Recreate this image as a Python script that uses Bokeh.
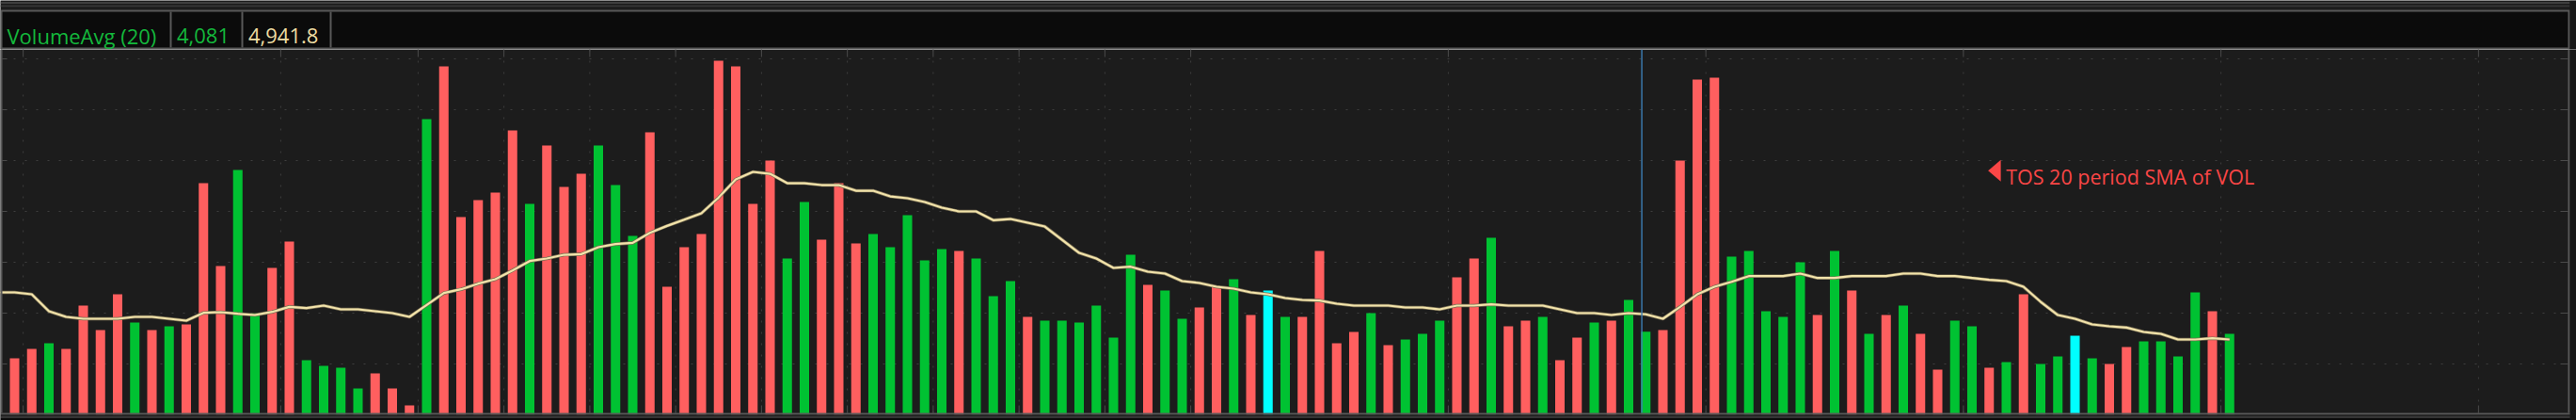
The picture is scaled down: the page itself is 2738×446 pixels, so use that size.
from bokeh.plotting import figure
from bokeh.layouts import column
from bokeh.models import Range1d, ColumnDataSource
from bokeh.core.properties import value
from bokeh.embed import file_html
from bokeh.resources import INLINE

# ---------------- data ----------------
study_name = "VolumeAvg (20)"
cursor_volume = "4,081"
cursor_avg = "4,941.8"
note_text = "TOS 20 period SMA of VOL"

bar_index = list(range(1, 131))
volume = [
    2777, 3240, 3518, 3240, 5370, 4166, 5925, 4536, 4166, 4351,
    4444, 11387, 7314, 12035, 4984, 7221, 8517, 2685, 2407, 2315,
    1296, 2037, 1296, 463, 14535, 17127, 9721, 10554, 10924, 13980,
    10369, 13239, 11202, 11850, 13239, 11295, 8795, 13887, 6295, 8240,
    8888, 17405, 17127, 10369, 12498, 7684, 10462, 8610, 11387, 8425,
    8888, 8240, 9813, 7592, 8147, 8054, 7684, 5833, 6573, 4814,
    4629, 4629, 4536, 5370, 3796, 7869, 6388, 6110, 4722, 5277,
    6295, 6666, 4907, 6110, 4814, 4814, 8054, 3518, 4074, 4999,
    3425, 3703, 3981, 4629, 6758, 7684, 8703, 4351, 4629, 4814,
    2685, 3796, 4536, 4629, 5647, 4081, 4166, 12498, 16479, 16572,
    7777, 8054, 5092, 4814, 7499, 4907, 8054, 6110, 3981, 4907,
    5370, 3981, 2222, 4629, 4351, 2315, 2592, 5925, 2500, 2870,
    3888, 2777, 2500, 3333, 3611, 3611, 2870, 6018, 5092, 3981,
]
# R = down (red), G = up (green), C = highlighted (cyan)
bar_kind = list(
    "RRGRRRRGRG" "RRRGGRRGGG" "GRRRGRRRRR" "GRRRGGGRRR" "RRRRRGGRRR"
    "GGGGGRGGGR" "GGGGGGRGGR" "RGRCGRRRRG" "RGGGRRGRRG" "RRGRGGRRRR"
    "GGGGGRGRGR" "GRRGGRGRGG" "CGRRGGGGRG"
)
sma_index = list(range(0, 131))
sma = [
    6018,
    6018, 5925, 5092, 4814, 4722, 4722, 4722, 4814, 4814, 4722,
    4629, 5015, 5046, 4968, 4907, 5061, 5308, 5246, 5370, 5185,
    5185, 5092, 4999, 4814, 5400, 5987, 6172, 6450, 6666, 7098,
    7561, 7684, 7869, 7900, 8240, 8394, 8456, 8949, 9289, 9597,
    9906, 10678, 11572, 11943, 11850, 11387, 11387, 11295, 11295, 11017,
    11017, 10739, 10647, 10462, 10184, 9999, 9999, 9567, 9628, 9443,
    9258, 8610, 7962, 7684, 7221, 7283, 7036, 6944, 6573, 6481,
    6295, 6203, 6018, 5925, 5740, 5647, 5617, 5462, 5370, 5370,
    5370, 5277, 5277, 5185, 5370, 5370, 5431, 5370, 5370, 5370,
    5185, 4999, 4999, 4907, 4999, 4942, 4722, 5308, 5925, 6295,
    6542, 6820, 6820, 6820, 6944, 6727, 6727, 6820, 6820, 6820,
    6944, 6944, 6820, 6820, 6727, 6635, 6573, 6295, 5555, 4907,
    4722, 4444, 4351, 4290, 4074, 3981, 3703, 3703, 3765, 3703,
]
grid_levels = [2500, 5000, 7500, 10000, 12500, 15000, 17500]
grid_after_bar = [1, 16, 24, 29, 34, 39, 44, 49, 54, 59, 64, 69, 84, 99, 114, 129, 144]
cursor_bar = 96
note_bar = 116          # bar where the note sits
note_level = 12000      # volume level of the note

# ---------------- styling / layout ----------------
kind_color = {"R": "#ff5f5f", "G": "#00c232", "C": "#00ffff"}
FONT = "Open Sans"
W = 2738
HEADER_H = 52
CHART_H = 394
BORDER = "#595959"
BG = "#1c1c1c"
OUTSIDE = "#181818"

# pixel geometry of the chart panel (page pixels)
BAR0_PX = 15.0       # centre of first bar
BAR_STEP = 18.25     # px per bar
ZERO_PX = 440.0      # pixel row of zero volume
PX_PER_2500 = 54.0

px_x = 1.0 / BAR_STEP
px_y = 2500.0 / PX_PER_2500


def X(px):
    return 1 + (px - BAR0_PX) * px_x


def Y(py):
    return (ZERO_PX - py) * px_y


x_start, x_end = X(0), X(W)
y_end, y_start = Y(HEADER_H), Y(HEADER_H + CHART_H)

# ---------------- header strip ----------------
hdr = figure(width=W, height=HEADER_H, x_range=Range1d(0, W), y_range=Range1d(HEADER_H, 0),
             x_axis_type=None, y_axis_type=None, toolbar_location=None, output_backend="svg",
             min_border=0, outline_line_color=None,
             background_fill_color=BG, border_fill_color=BG)
# remnants of the upper panel edge
hdr.quad(left=[0, 0], right=[2731, 2731], top=[1.7, 5.0], bottom=[3.3, 6.7],
         fill_color=["#4b4b4b", "#363636"], line_color=None)
hdr.quad(left=[0], right=[2731], top=[10], bottom=[52], fill_color=BORDER, line_color=None)
hdr.quad(left=[2], right=[2729], top=[12], bottom=[50], fill_color="#0b0b0b", line_color=None)
hdr.quad(left=[2731], right=[W], top=[0], bottom=[52], fill_color=OUTSIDE, line_color=None)
hdr.quad(left=[180, 256, 350], right=[182, 258, 352], top=[12] * 3, bottom=[50] * 3,
         fill_color=BORDER, line_color=None)
hdr.text(x=[7, 187.5], y=[37.3, 37.3], text=[study_name, cursor_volume],
         text_color="#14b83c", text_font=value(FONT), text_font_size="22px",
         text_baseline="alphabetic", text_align="left")
hdr.text(x=[263.5], y=[37.3], text=[cursor_avg],
         text_color="#eedca2", text_font=value(FONT), text_font_size="22px",
         text_baseline="alphabetic", text_align="left")

# ---------------- volume chart ----------------
p = figure(width=W, height=CHART_H, x_range=Range1d(x_start, x_end), y_range=Range1d(y_start, y_end),
           x_axis_type=None, y_axis_type=None, toolbar_location=None, output_backend="svg",
           min_border=0, background_fill_color=BG, border_fill_color=BG, outline_line_color=None)

GRID = "#3e3e3e"
TICK = "#4a4a4a"
n = len(grid_levels)
# horizontal dotted grid + edge ticks
p.segment(x0=[X(2)] * n, x1=[X(2729)] * n, y0=grid_levels, y1=grid_levels,
          line_color=GRID, line_width=1, line_dash="2 10")
p.segment(x0=[X(2721)] * n, x1=[X(2729)] * n, y0=grid_levels, y1=grid_levels, line_color=TICK, line_width=1)
p.segment(x0=[X(2)] * n, x1=[X(7)] * n, y0=grid_levels, y1=grid_levels, line_color=TICK, line_width=1)
# vertical dotted grid + top/bottom ticks
vx = [g + 0.5 for g in grid_after_bar]
m = len(vx)
p.segment(x0=vx, x1=vx, y0=[Y(438)] * m, y1=[Y(52)] * m,
          line_color=GRID, line_width=1, line_dash="2 10")
p.segment(x0=vx, x1=vx, y0=[Y(60)] * m, y1=[Y(52)] * m, line_color=TICK, line_width=1)
p.segment(x0=vx, x1=vx, y0=[Y(438)] * m, y1=[Y(430)] * m, line_color=TICK, line_width=1)

src = ColumnDataSource(dict(x=bar_index, top=volume, color=[kind_color[k] for k in bar_kind]))
p.vbar(x="x", top="top", bottom=0, width=0.55, fill_color="color", line_color=None, source=src)

p.line(sma_index, sma, line_color="#776d52", line_width=3.6)
p.line(sma_index, sma, line_color="#f2e3aa", line_width=2.2)

# cursor line
p.segment(x0=[cursor_bar - 0.23], x1=[cursor_bar - 0.23], y0=[Y(438)], y1=[Y(52)],
          line_color="#3c7db4", line_width=1.4)

# note: left-pointing marker + text
tip_x = note_bar - 0.06
tri_x = [tip_x, tip_x + 13.5 * px_x, tip_x + 13.5 * px_x]
tri_y = [note_level, note_level + 11.5 * px_y, note_level - 11.5 * px_y]
NOTE_RED = "#fa4646"
p.patch(tri_x, tri_y, fill_color=NOTE_RED, line_color=None)
p.text(x=[tip_x + 19 * px_x], y=[note_level - 6.2 * px_y], text=[note_text],
       text_color=NOTE_RED, text_font=value(FONT), text_font_size="21.5px",
       text_baseline="alphabetic", text_align="left")

# panel borders
p.quad(left=[X(0), X(2729)], right=[X(2), X(2731)], top=[Y(52)] * 2, bottom=[Y(438)] * 2,
       fill_color=BORDER, line_color=None)
p.quad(left=[X(2731)], right=[X(W)], top=[Y(52)], bottom=[Y(446)], fill_color=OUTSIDE, line_color=None)
p.quad(left=[X(0)], right=[X(2731)], top=[Y(438)], bottom=[Y(440)], fill_color=BORDER, line_color=None)
p.quad(left=[X(0), X(0), X(0)], right=[X(2731)] * 3, top=[Y(440), Y(441.3), Y(443.7)],
       bottom=[Y(441.3), Y(443.7), Y(446)], fill_color=["#1e1e1e", "#353535", "#0a0a0a"], line_color=None)

layout = column(hdr, p, spacing=0)

open("out.html", "w").write(file_html(layout, INLINE))
